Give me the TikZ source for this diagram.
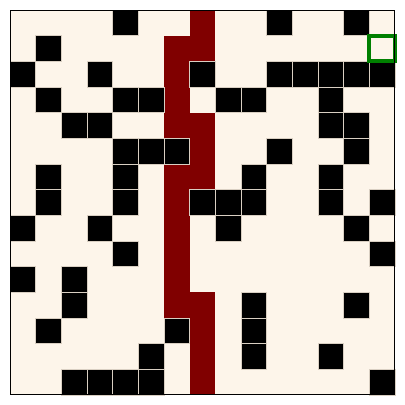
\documentclass[tikz,border=0pt]{standalone}
\usepackage{xcolor}
\usepackage{tikz}
\definecolor{floorcol}{HTML}{FDF5EA}
\definecolor{pathcol}{HTML}{800000}
\definecolor{goalcol}{HTML}{008000}
\definecolor{edgecol}{HTML}{D9CFC2}
\tikzset{
  floor/.style={fill=floorcol},
  wallcell/.style={fill=black,draw=edgecol,line width=0.4pt},
  pathcell/.style={fill=pathcol},
  goalcell/.style={draw=goalcol,line width=4.4pt},
  gridframe/.style={draw=black,line width=1.1pt},
}
\begin{document}
\begin{tikzpicture}[x=1cm,y=-1cm]
  \useasboundingbox (-0.39,-0.39) rectangle (15.39,15.39);
  \fill[floor] (0,0) rectangle (15,15);
  % solved route
  \foreach \c/\r in {7/0,6/1,7/1,6/2,6/3,6/4,7/4,7/5,6/6,7/6,6/7,6/8,6/9,
                     6/10,6/11,7/11,7/12,7/13,7/14}
    \fill[pathcell] (\c,\r) rectangle ++(1,1);
  % walls
  \foreach \c/\r in {4/0,10/0,13/0,
                     1/1,
                     0/2,3/2,7/2,10/2,11/2,12/2,13/2,14/2,
                     1/3,4/3,5/3,8/3,9/3,12/3,
                     2/4,3/4,12/4,13/4,
                     4/5,5/5,6/5,10/5,13/5,
                     1/6,4/6,9/6,12/6,
                     1/7,4/7,7/7,8/7,9/7,12/7,14/7,
                     0/8,3/8,8/8,13/8,
                     4/9,14/9,
                     0/10,2/10,
                     2/11,9/11,13/11,
                     1/12,6/12,9/12,
                     5/13,9/13,12/13,
                     2/14,3/14,4/14,5/14,14/14}
    \draw[wallcell] (\c,\r) rectangle ++(1,1);
  % goal
  \draw[goalcell] (14,1) rectangle ++(1,1);
  \draw[gridframe] (0,0) rectangle (15,15);
\end{tikzpicture}
\end{document}
